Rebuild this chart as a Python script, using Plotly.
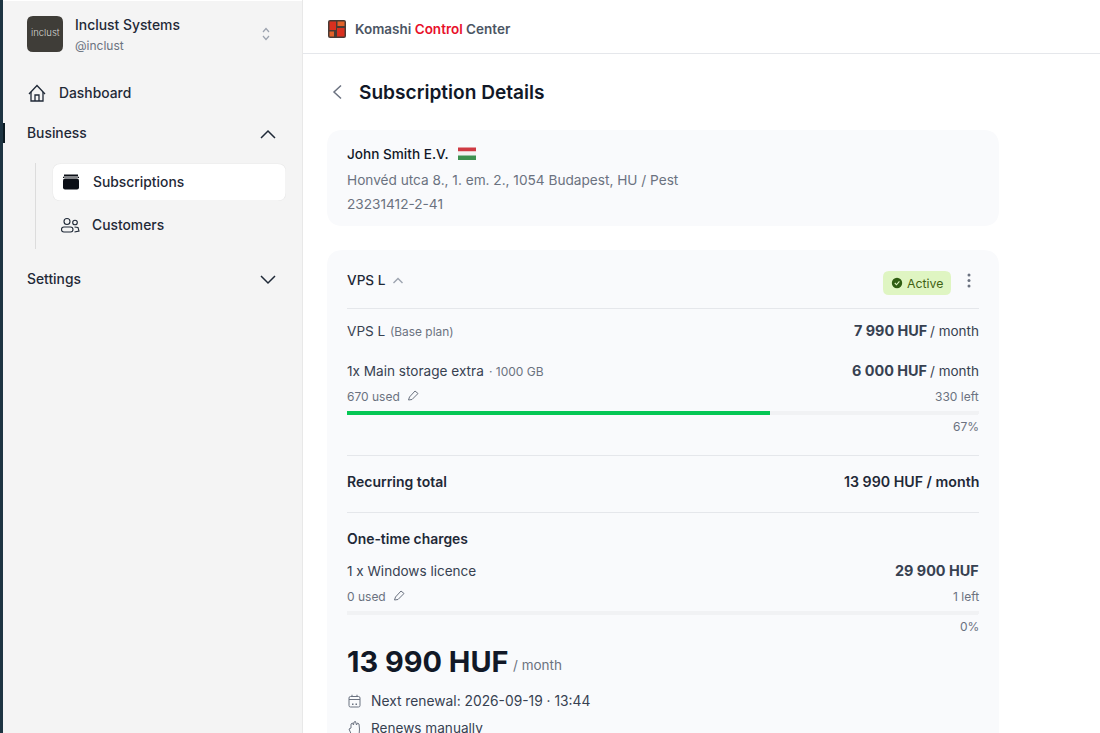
import plotly.graph_objects as go

# ---- content / values ----
company = "Inclust Systems"
handle = "@inclust"
nav_items = ["Dashboard", "Business", "Subscriptions", "Customers", "Settings"]
title = "Subscription Details"
customer = ["John Smith E.V.", "Honvéd utca 8., 1. em. 2., 1054 Budapest, HU / Pest", "23231412-2-41"]
plan_name = "VPS L"
base_price = "7 990 HUF"
extra_price = "6 000 HUF"
recurring = "13 990 HUF / month"
one_time = "29 900 HUF"
storage_used = [670]
storage_total = [1000]
licence_used = [0]
licence_total = [1]
next_renewal = "Next renewal: 2026-09-19 · 13:44"

FONT = "Inter"
INK = "#111827"
DARK = "#1f2937"
MID = "#374151"
GREY = "#6b7280"
LINE = "#e5e7eb"
CARD = "#f9fafc"

W, H = 1100, 733
shapes, notes = [], []


def text(s, x, y, size=14, color=DARK, anchor="left", weight=400):
    if 13.4 < size < 14.6:
        y -= 0.2
    notes.append(dict(text=s, x=x, y=y, xref="x", yref="y", showarrow=False,
                      xanchor=anchor, yanchor="middle", borderpad=0, borderwidth=0,
                      font=dict(family=FONT, size=size, color=color, weight=weight)))


def rrect(x0, y0, x1, y1, r, fill, line=None, lw=1):
    p = (f"M{x0+r},{y0} L{x1-r},{y0} Q{x1},{y0} {x1},{y0+r} L{x1},{y1-r} Q{x1},{y1} {x1-r},{y1} "
         f"L{x0+r},{y1} Q{x0},{y1} {x0},{y1-r} L{x0},{y0+r} Q{x0},{y0} {x0+r},{y0} Z")
    shapes.append(dict(type="path", path=p, xref="x", yref="y", layer="below", fillcolor=fill,
                       line=dict(color=line or "rgba(0,0,0,0)", width=lw if line else 0)))


def poly(points, color, lw=1.5, close=False, fill=None):
    p = "M" + " L".join(f"{a},{b}" for a, b in points) + (" Z" if close else "")
    shapes.append(dict(type="path", path=p, xref="x", yref="y", layer="below",
                       fillcolor=fill or "rgba(0,0,0,0)", line=dict(color=color, width=lw)))


def circle(cx, cy, r, fill=None, line=None, lw=1.2):
    shapes.append(dict(type="circle", x0=cx-r, x1=cx+r, y0=cy-r, y1=cy+r, xref="x", yref="y",
                       layer="below", fillcolor=fill or "rgba(0,0,0,0)",
                       line=dict(color=line or "rgba(0,0,0,0)", width=lw if line else 0)))


def block(x0, y0, x1, y1, fill):
    shapes.append(dict(type="rect", x0=x0, x1=x1, y0=y0, y1=y1, xref="x", yref="y", layer="below",
                       fillcolor=fill, line=dict(width=0)))


# ---- sidebar ----
block(0, 0, 3, H, "#1d3442")
block(3, 1, 302, H, "#f4f4f4")
block(302, 0, 303, H, "#e8e8e8")
block(3, 123, 5, 143, "#0b1a22")
rrect(27, 16, 63, 52, 6, "#3f3d38")
text("inclust", 45, 32.5, 9.5, "#d6d6d2", "center", 300)
text(company, 75, 25, 13.9, DARK, weight=500)
text(handle, 75, 45, 12, GREY)
poly([(263, 32), (266, 28.5), (269, 32)], "#9ca3af", 1.2)
poly([(263, 36), (266, 39.5), (269, 36)], "#9ca3af", 1.2)
# home icon
poly([(29, 94), (37, 85.5), (45, 94)], "#1f2937", 1.3)
poly([(31, 92), (31, 101), (43, 101), (43, 92)], "#1f2937", 1.3)
poly([(35, 101), (35, 95), (39, 95), (39, 101)], "#1f2937", 1.3)
text(nav_items[0], 59, 93, 13.85, DARK, weight=500)
text(nav_items[1], 27, 133, 13.85, DARK, weight=500)
poly([(261, 138), (268, 131), (275, 138)], "#1f2937", 1.5)
block(35, 163, 36, 249, "#dcdcdc")
rrect(52.5, 163.5, 286, 201, 8, "#e9e9e9")
rrect(53, 164, 285.5, 200.5, 8, "#ffffff")
# subscriptions icon
rrect(63, 178.5, 79, 189.5, 2, "#0b0f16")
block(64, 174.5, 78, 176, "#0b0f16")
poly([(63.5, 178), (63.5, 177), (78.5, 177), (78.5, 178)], "#0b0f16", 1)
text(nav_items[2], 93, 182, 13.85, DARK, weight=500)
# customers icon
circle(67, 221.5, 3, None, "#1f2937", 1.1)
circle(75, 222.5, 2.3, None, "#1f2937", 1.1)
rrect(61.5, 227, 73, 232, 2.5, "rgba(0,0,0,0)", "#1f2937", 1.1)
poly([(74.5, 227), (78, 227.5), (79, 231), (74.5, 232)], "#1f2937", 1.1)
text(nav_items[3], 92, 225, 13.85, DARK, weight=500)
text(nav_items[4], 27, 279, 13.85, DARK, weight=500)
poly([(261, 276), (268, 283), (275, 276)], "#1f2937", 1.5)

# ---- top bar ----
block(303, 53, W, 54, LINE)
rrect(328, 20, 346, 38, 2, "#4a3a34")
block(329.5, 21.5, 336, 30, "#d9301f")
block(337.5, 21.5, 344.5, 26, "#e2622a")
block(329.5, 31.5, 334, 36.5, "#e2622a")
block(337, 28, 344.5, 36.5, "#d9301f")
text('Komashi <span style="color:#e8102a">Control</span> Center', 355, 29, 13.5, "#4b5563", weight=600)

# ---- page heading ----
poly([(341, 85.5), (334, 92), (341, 98.5)], "#6b7280", 1.5)
text(title, 359, 92, 19.1, INK, weight=600)

# ---- customer card ----
rrect(327, 130, 999, 226, 16, CARD)
text(customer[0], 347, 154, 13.6, INK, weight=500)
block(458, 147.5, 476, 151.5, "#cf3a43")
block(458, 151.5, 476, 155.5, "#f3f3f3")
block(458, 155.5, 476, 160, "#3d9150")
text(customer[1], 347, 180, 13.65, GREY)
text(customer[2], 347, 204, 13.65, GREY)

# ---- subscription card ----
rrect(327, 250, 999, 760, 16, CARD)
text(plan_name, 347, 280, 13.6, DARK, weight=500)
poly([(393.5, 283), (398, 278.5), (402.5, 283)], "#9ca3af", 1.4)
rrect(883, 271, 951, 295, 6, "#dff5c2")
circle(897, 283, 5.2, "#2f5d12")
poly([(894.8, 283), (896.5, 284.8), (899.4, 281.4)], "#dff5c2", 1.1)
text("Active", 907, 283, 12.3, "#3f6212", weight=400)
for yy in (275, 280.5, 286):
    circle(969, yy, 1.5, "#6b7280")
block(347, 308, 979, 309, LINE)

text(plan_name, 347, 331, 13.6, MID)
text("(Base plan)", 390, 331.5, 11.9, GREY)
text(base_price, 927, 331, 14.4, MID, "right", 700)
text("/ month", 979, 331, 13.5, MID, "right")

text("1x Main storage extra", 347, 371, 13.6, MID)
text("· 1000 GB", 488.5, 371.5, 12, GREY)
text(extra_price, 927, 371, 14.4, MID, "right", 700)
text("/ month", 979, 371, 13.5, MID, "right")
text(f"{storage_used[0]} used", 347, 396.5, 12, GREY)
poly([(408.5, 400), (409.5, 397), (415, 391), (418, 393.5), (412, 399.5), (408.5, 400)], GREY, 1)
text(f"{storage_total[0]-storage_used[0]} left", 979, 396.5, 12, GREY, "right")
text(f"{round(100*storage_used[0]/storage_total[0])}%", 979, 426.5, 12, GREY, "right")

block(347, 455, 979, 456, LINE)
text("Recurring total", 347, 482, 14, DARK, weight=600)
text(recurring, 979, 482, 14.2, DARK, "right", 600)
block(347, 512, 979, 513, LINE)

text("One-time charges", 347, 539, 13.9, DARK, weight=600)
text("1 x Windows licence", 347, 571, 13.55, MID)
text(one_time, 979, 571, 14.4, MID, "right", 700)
text(f"{licence_used[0]} used", 347, 596.5, 12, GREY)
poly([(394.5, 600), (395.5, 597), (401, 591), (404, 593.5), (398, 599.5), (394.5, 600)], GREY, 1)
text(f"{licence_total[0]-licence_used[0]} left", 979, 596.5, 12, GREY, "right")
text(f"{round(100*licence_used[0]/licence_total[0])}%", 979, 626.5, 12, GREY, "right")

text("13 990 HUF", 347, 661.5, 28.9, INK, weight=700)
text("/ month", 513, 665, 13.5, GREY)
# calendar icon
rrect(349, 696.5, 360, 707, 1.5, "rgba(0,0,0,0)", GREY, 1)
block(349, 699, 360, 700, GREY)
block(351.5, 694.8, 352.5, 697, GREY)
block(356.5, 694.8, 357.5, 697, GREY)
block(352, 703.5, 353.5, 705, GREY)
block(355.5, 703.5, 357, 705, GREY)
text(next_renewal, 371, 701, 13.8, MID)
# raised-hand icon
poly([(352, 736), (349, 729), (351, 728), (351, 724), (352.5, 723), (353.5, 725), (354, 722), (355.5, 721.5),
      (356.5, 725), (357.5, 723), (359, 724), (359.5, 729), (359, 736)], GREY, 1)
text("Renews manually", 371, 728, 13.6, MID)

# ---- figure: main canvas plus two data-driven progress bars ----
fig = go.Figure()
TRACK = "#f1f2f4"
FILL = "#06c755"


def progress(used, total, n):
    pct = [100 * u / t for u, t in zip(used, total)]
    fig.add_trace(go.Bar(x=[100], y=[0], orientation="h", width=1, marker_color=TRACK, marker_line_width=0,
                         hoverinfo="skip", xaxis=f"x{n}", yaxis=f"y{n}", showlegend=False))
    fig.add_trace(go.Bar(x=pct, y=[0], orientation="h", width=1, marker_color=FILL, marker_line_width=0,
                         hoverinfo="skip", xaxis=f"x{n}", yaxis=f"y{n}", showlegend=False))


progress(storage_used, storage_total, 2)
progress(licence_used, licence_total, 3)


def bar_axes(y0, y1):
    dx = [347 / W, 979 / W]
    return (dict(domain=dx, range=[0, 100], visible=False, fixedrange=True),
            dict(domain=[1 - y1 / H, 1 - y0 / H], range=[-0.5, 0.5], visible=False, fixedrange=True))


x2, y2 = bar_axes(411, 415)
x3, y3 = bar_axes(611, 615)
x2["anchor"] = "y2"; y2["anchor"] = "x2"
x3["anchor"] = "y3"; y3["anchor"] = "x3"

fig.update_layout(
    width=W, height=H, margin=dict(l=0, r=0, t=0, b=0, pad=0),
    paper_bgcolor="#ffffff", plot_bgcolor="rgba(0,0,0,0)",
    barmode="overlay", bargap=0, barcornerradius=2, showlegend=False,
    xaxis=dict(range=[0, W], domain=[0, 1], visible=False, fixedrange=True),
    yaxis=dict(range=[H, 0], domain=[0, 1], visible=False, fixedrange=True),
    xaxis2=x2, yaxis2=y2, xaxis3=x3, yaxis3=y3,
    shapes=shapes, annotations=notes,
)
fig.write_html("out.html", config=dict(displayModeBar=False),
               post_script="document.body.style.margin='0';document.body.style.overflow='hidden';")
